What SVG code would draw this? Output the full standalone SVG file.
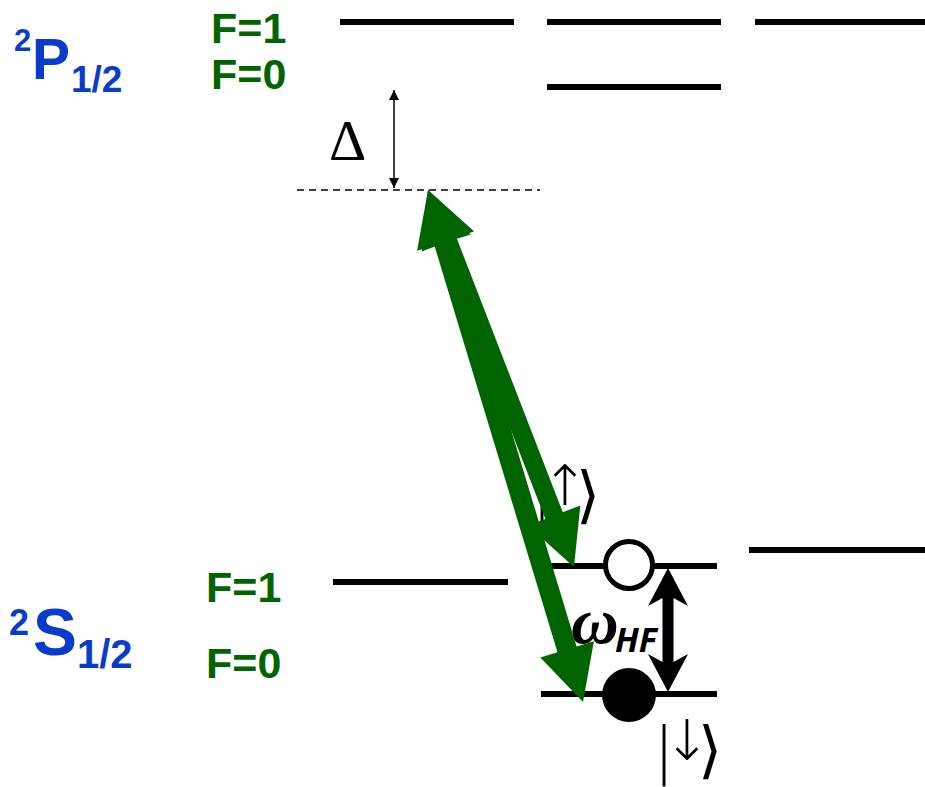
<svg xmlns="http://www.w3.org/2000/svg" width="925" height="787" viewBox="0 0 925 787">
<style>
.lvl{stroke:#000;stroke-width:6;fill:none}
.blue{fill:#0a3ccc;font-family:"Liberation Sans",Arial,sans-serif;font-weight:bold}
.grn{fill:#006400;font-family:"Liberation Sans",Arial,sans-serif;font-weight:bold;font-size:43px}
.green{fill:#006400}
.ket{font-family:"DejaVu Sans",sans-serif;fill:#000;font-weight:200}
</style>
<defs>
<marker id="ah" viewBox="0 0 10 10" refX="10" refY="5" markerWidth="12" markerHeight="10" markerUnits="userSpaceOnUse" orient="auto-start-reverse">
<path d="M0,0 L10,5 L0,10 Z" fill="#000"/>
</marker>
</defs>
<rect width="925" height="787" fill="#fff"/>
<g id="levels">
<g id="p-f1-a"><line class="lvl" x1="340" y1="22" x2="514" y2="22"/></g>
<g id="p-f1-b"><line class="lvl" x1="547" y1="22" x2="721" y2="22"/></g>
<g id="p-f1-c"><line class="lvl" x1="755" y1="22" x2="925" y2="22"/></g>
<g id="p-f0-b"><line class="lvl" x1="547" y1="87" x2="721" y2="87"/></g>
<g id="virtual"><line x1="297" y1="190" x2="540" y2="190" stroke="#000" stroke-width="1.5" stroke-dasharray="7,5"/></g>
<g id="s-f1-a"><line class="lvl" x1="333" y1="582" x2="508" y2="582"/></g>
<g id="s-f1-b"><line class="lvl" x1="541" y1="566" x2="717" y2="566"/></g>
<g id="s-f1-c"><line class="lvl" x1="749" y1="550" x2="925" y2="550"/></g>
<g id="s-f0-b"><line class="lvl" x1="541" y1="694" x2="717" y2="694"/></g>
</g>
<g id="labels">
<g id="p-label">
<text class="blue" x="14" y="51" font-size="31">2</text>
<text class="blue" x="32" y="79" font-size="57">P</text>
<text class="blue" x="71" y="92" font-size="37">1/2</text>
</g>
<g id="s-label">
<text class="blue" x="9" y="635" font-size="36">2</text>
<text class="blue" x="33" y="655" font-size="66">S</text>
<text class="blue" x="77" y="668" font-size="40">1/2</text>
</g>
<text class="grn" x="211" y="43">F=1</text>
<text class="grn" x="211" y="89">F=0</text>
<text class="grn" x="206" y="602">F=1</text>
<text class="grn" x="206" y="678">F=0</text>
<text x="329" y="160" font-family="'Liberation Serif','Times New Roman',serif" font-size="58">Δ</text>
<text x="571" y="643" font-family="'Liberation Serif','Times New Roman',serif" font-style="italic" font-weight="bold" font-size="66">ω</text>
<text x="615" y="652" font-family="'Open Sans','Liberation Sans',sans-serif" font-style="italic" font-weight="bold" font-size="34">HF</text>
<text id="ket-up" class="ket" text-anchor="middle" font-size="62"><tspan x="542" y="516">|</tspan><tspan x="565" y="505" font-size="56">↑</tspan><tspan x="588" y="516">⟩</tspan></text>
<text id="ket-down" class="ket" text-anchor="middle" font-size="62"><tspan x="664" y="771">|</tspan><tspan x="687" y="760" font-size="56">↓</tspan><tspan x="710" y="771">⟩</tspan></text>
</g>
<g id="atoms">
<g id="atom-up"><circle cx="629" cy="565" r="23.5" fill="#fff" stroke="#000" stroke-width="5"/></g>
<g id="atom-down"><circle cx="629" cy="695" r="27" fill="#000"/></g>
</g>
<g id="connectors">
<line x1="394" y1="90" x2="394" y2="188" stroke="#000" stroke-width="1.5" marker-start="url(#ah)" marker-end="url(#ah)"/>
<polygon class="green" points="428,190 474.0,231.2 456.6,237.9 562.8,512.3 580.3,505.5 574,567 528.0,525.8 545.4,519.1 439.2,244.7 421.8,251.5"/>
<polygon class="green" points="428,190 470.7,234.5 453.5,239.7 576.6,646.5 593.9,641.3 583,702 540.3,657.5 557.5,652.3 434.4,245.5 417.1,250.8"/>
<polygon fill="#000" points="668,568 688,606 673.5,598 673.5,662 688,654 668,692 648,654 662.5,662 662.5,598 648,606"/>
</g>
</svg>
